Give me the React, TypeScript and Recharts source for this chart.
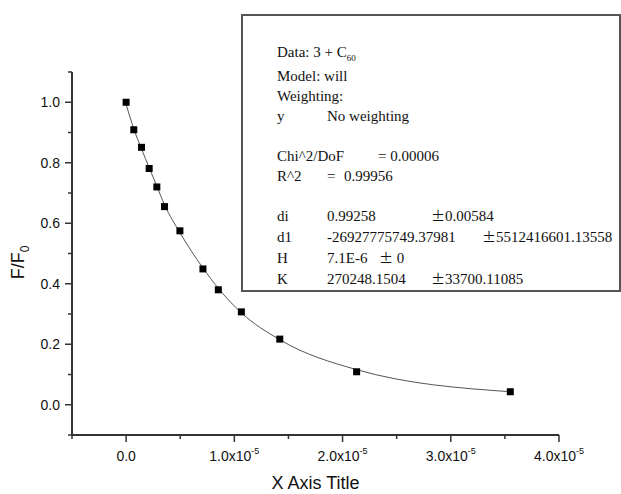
import React from "react";
import { ComposedChart, Line, Scatter, XAxis, YAxis, Label } from "recharts";

// concentration (M) and quenching ratio
const concX = [0, 0.071e-5, 0.142e-5, 0.213e-5, 0.284e-5, 0.355e-5, 0.497e-5, 0.71e-5, 0.852e-5, 1.065e-5, 1.42e-5, 2.13e-5, 3.55e-5];
const ratioY = [1.0, 0.909, 0.851, 0.781, 0.72, 0.655, 0.575, 0.449, 0.38, 0.307, 0.217, 0.109, 0.043];
// fitted curve ("will" model) read at the same x positions
const fitY = [0.993, 0.912, 0.846, 0.784, 0.722, 0.661, 0.569, 0.452, 0.385, 0.304, 0.215, 0.116, 0.043];

const xTicks = [-0.5e-5, 0, 0.5e-5, 1e-5, 1.5e-5, 2e-5, 2.5e-5, 3e-5, 3.5e-5, 4e-5];
const yTicks = [-0.1, 0, 0.1, 0.2, 0.3, 0.4, 0.5, 0.6, 0.7, 0.8, 0.9, 1.0, 1.1];

const fitLines: [string, string, string][] = [
  ["di", "0.99258", "0.00584"],
  ["d1", "-26927775749.37981", "5512416601.13558"],
  ["H", "7.1E-6", "0"],
  ["K", "270248.1504", "33700.11085"],
];

const points = concX.map((x, i) => ({ x, y: ratioY[i], fit: fitY[i] }));

const sans = "'Liberation Sans', Arial, sans-serif";
const serif = "'Liberation Serif', 'Times New Roman', serif";
const axisColor = "#333";

function YTick(props: any) {
  const { x, y, payload } = props;
  const v = payload.value as number;
  const major = Math.round(v * 10) % 2 === 0;
  return (
    <g>
      <line x1={x - (major ? 7 : 4)} x2={x} y1={y} y2={y} stroke={axisColor} strokeWidth={1.5} />
      {major && (
        <text x={x - 12} y={y} dy="0.35em" textAnchor="end" fontFamily={sans} fontSize={14} fill="#111">
          {v.toFixed(1)}
        </text>
      )}
    </g>
  );
}

function XTick(props: any) {
  const { x, y, payload } = props;
  const v = payload.value as number;
  const major = Math.round(v / 0.5e-5) % 2 === 0;
  return (
    <g>
      <line x1={x} x2={x} y1={y} y2={y + (major ? 7 : 4)} stroke={axisColor} strokeWidth={1.5} />
      {major &&
        (v === 0 ? (
          <text x={x} y={y + 26} textAnchor="middle" fontFamily={sans} fontSize={14} fill="#111">
            0.0
          </text>
        ) : (
          <text x={x} y={y + 26} textAnchor="middle" fontFamily={sans} fontSize={14} fill="#111">
            <tspan>{(v / 1e-5).toFixed(1)}x10</tspan>
            <tspan dy={-7} fontSize={9}>-5</tspan>
          </text>
        ))}
    </g>
  );
}

function YTitle(props: any) {
  const { viewBox } = props;
  const cx = 18;
  const cy = viewBox.y + viewBox.height / 2 + 9;
  return (
    <text transform={`translate(${cx},${cy}) rotate(-90)`} textAnchor="middle" dy="0.35em" fontFamily={sans} fontSize={18} fill="#111">
      <tspan>F/F</tspan>
      <tspan dy={5} fontSize={12}>0</tspan>
    </text>
  );
}

function XTitle(props: any) {
  const { viewBox } = props;
  return (
    <text x={viewBox.x + viewBox.width / 2} y={489} textAnchor="middle" fontFamily={sans} fontSize={18} fill="#111">
      X Axis Title
    </text>
  );
}

const pm = "'Noto Sans CJK SC', 'Liberation Serif', serif";

function FitBox() {
  const left = 277;
  const col2 = 327;
  const col3 = 431;
  return (
    <svg width={621} height={494} style={{ position: "absolute", left: 0, top: 0, pointerEvents: "none" }}>
      <rect x={242} y={15} width={378} height={276} fill="none" stroke="#555" strokeWidth={2} />
      <g fontFamily={serif} fontSize={15} fill="#111">
        <text x={left} y={57}>
          <tspan>Data: 3 + C</tspan>
          <tspan dy={4} fontSize={9}>60</tspan>
        </text>
        <text x={left} y={81}>Model: will</text>
        <text x={left} y={101}>Weighting:</text>
        <text x={left} y={121}>y</text>
        <text x={col2} y={121}>No weighting</text>
        <text x={left} y={161}>Chi^2/DoF</text>
        <text x={378} y={161}>= 0.00006</text>
        <text x={left} y={181}>R^2</text>
        <text x={col2} y={181}>=</text>
        <text x={344} y={181}>0.99956</text>
        {fitLines.map(([name, val, err], i) => (
          <g key={name}>
            <text x={left} y={221 + i * 21}>{name}</text>
            <text x={col2} y={221 + i * 21}>{val}</text>
            <text x={name === "d1" ? 482 : name === "H" ? 379 : col3} y={221 + i * 21}>
              <tspan fontFamily={pm} fontSize={14}>{"\u00b1"}</tspan>
              <tspan>{name === "H" ? " " + err : err}</tspan>
            </text>
          </g>
        ))}
      </g>
    </svg>
  );
}

export default function App() {
  return (
    <div style={{ position: "absolute", left: 0, top: 0, width: 621, height: 494, background: "#fff" }}>
      <ComposedChart width={621} height={494} data={points} margin={{ top: 72, right: 62, bottom: 0, left: 0 }}>
        <XAxis
          type="number"
          dataKey="x"
          domain={[-0.5e-5, 4e-5]}
          ticks={xTicks}
          interval={0}
          height={59}
          tickSize={0}
          tickMargin={0}
          tickLine={false}
          tick={<XTick />}
          axisLine={{ stroke: axisColor, strokeWidth: 2 }}
          allowDataOverflow
        >
          <Label content={<XTitle />} />
        </XAxis>
        <YAxis
          type="number"
          domain={[-0.1, 1.1]}
          ticks={yTicks}
          interval={0}
          width={72}
          tickSize={0}
          tickMargin={0}
          tickLine={false}
          tick={<YTick />}
          axisLine={{ stroke: axisColor, strokeWidth: 2 }}
          allowDataOverflow
        >
          <Label content={<YTitle />} />
        </YAxis>
        <Line dataKey="fit" type="monotone" dot={false} stroke="#555" strokeWidth={1} isAnimationActive={false} />
        <Scatter
          dataKey="y"
          fill="#000"
          isAnimationActive={false}
          shape={(p: any) => <rect x={p.cx - 3.5} y={p.cy - 3.5} width={7} height={7} fill="#000" />}
        />
      </ComposedChart>
      <FitBox />
    </div>
  );
}
